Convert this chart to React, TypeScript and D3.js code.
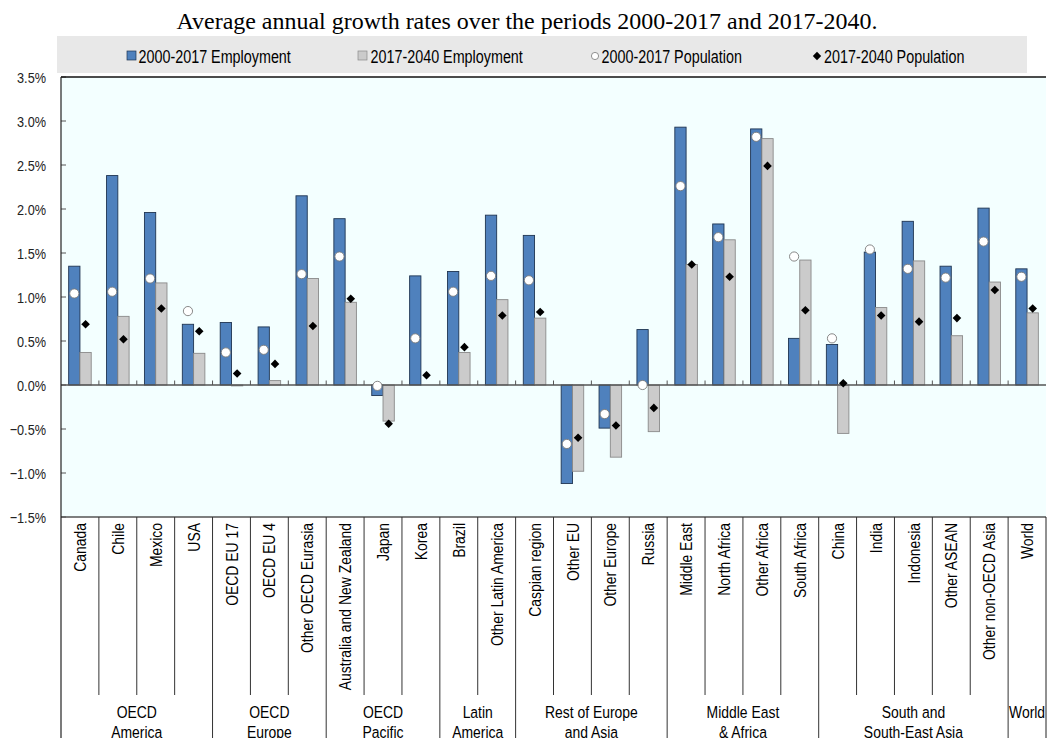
import React from "react";
import * as d3 from "d3";

const title = "Average annual growth rates over the periods 2000-2017 and 2017-2040.";

const categories = [
  "Canada", "Chile", "Mexico", "USA",
  "OECD EU 17", "OECD EU 4", "Other OECD Eurasia",
  "Australia and New Zealand", "Japan", "Korea",
  "Brazil", "Other Latin America",
  "Caspian region", "Other EU", "Other Europe", "Russia",
  "Middle East", "North Africa", "Other Africa", "South Africa",
  "China", "India", "Indonesia", "Other ASEAN", "Other non-OECD Asia",
  "World",
];

const groups = [
  { lines: ["OECD", "America"], count: 4 },
  { lines: ["OECD", "Europe"], count: 3 },
  { lines: ["OECD", "Pacific"], count: 3 },
  { lines: ["Latin", "America"], count: 2 },
  { lines: ["Rest of Europe", "and Asia"], count: 4 },
  { lines: ["Middle East", "& Africa"], count: 4 },
  { lines: ["South and", "South-East Asia"], count: 5 },
  { lines: ["World"], count: 1 },
];

const emp2000 = [1.35, 2.38, 1.96, 0.69, 0.71, 0.66, 2.15, 1.89, -0.12, 1.24, 1.29, 1.93, 1.70, -1.12, -0.49, 0.63, 2.93, 1.83, 2.91, 0.53, 0.46, 1.51, 1.86, 1.35, 2.01, 1.32];
const emp2017 = [0.37, 0.78, 1.16, 0.36, -0.01, 0.05, 1.21, 0.94, -0.41, 0.0, 0.37, 0.97, 0.76, -0.98, -0.82, -0.53, 1.37, 1.65, 2.80, 1.42, -0.55, 0.88, 1.41, 0.56, 1.17, 0.82];
const pop2000 = [1.04, 1.06, 1.21, 0.84, 0.37, 0.40, 1.26, 1.46, -0.01, 0.53, 1.06, 1.24, 1.19, -0.67, -0.33, 0.0, 2.26, 1.68, 2.82, 1.46, 0.53, 1.54, 1.32, 1.22, 1.63, 1.23];
const pop2017 = [0.69, 0.52, 0.87, 0.61, 0.13, 0.24, 0.67, 0.98, -0.44, 0.11, 0.43, 0.79, 0.83, -0.60, -0.46, -0.26, 1.37, 1.23, 2.49, 0.85, 0.02, 0.79, 0.72, 0.76, 1.08, 0.87];

const yTicks = [-1.5, -1.0, -0.5, 0.0, 0.5, 1.0, 1.5, 2.0, 2.5, 3.0, 3.5];

const legendItems = ["2000-2017 Employment", "2017-2040 Employment", "2000-2017 Population", "2017-2040 Population"];

const W = 1047;
const H = 738;
const plotL = 61;
const plotR = 1046;
const plotT = 77;
const plotB = 517;
const catLineB = 695;

const BLUE = "#4f81bd";
const BLUE_STROKE = "#1f3552";
const GRAY = "#cbcbcb";
const GRAY_STROKE = "#8a8a8a";
const FONT = "'Liberation Sans', Arial, sans-serif";
const NARROW = 0.82;

function NText(props: {
  x: number; y: number; size: number; anchor?: string; rotate?: boolean; dy?: string; fill?: string; children: React.ReactNode;
}) {
  const { x, y, size, anchor = "start", rotate = false, dy, fill = "#000", children } = props;
  const tr = `translate(${x},${y})${rotate ? " rotate(-90)" : ""} scale(${NARROW},1)`;
  return (
    <text transform={tr} fontFamily={FONT} fontSize={size} textAnchor={anchor} dy={dy} fill={fill}>
      {children}
    </text>
  );
}

export default function App() {
  const x = d3.scaleBand<string>().domain(categories).range([plotL, plotR]).padding(0);
  const bw = x.bandwidth();
  const inner = d3.scaleBand<string>().domain(["e0", "e1"]).range([0, bw]).paddingInner(0).paddingOuter(0.68);
  const y = d3.scaleLinear().domain([-1.5, 3.5]).range([plotB, plotT]);
  const y0 = y(0);
  const fmt = d3.format(".1f");

  const barRect = (v: number) => ({ y: Math.min(y(v), y0), h: Math.abs(y(v) - y0) });

  const groupBounds: number[] = [];
  let acc = 0;
  groups.forEach((g) => { acc += g.count; groupBounds.push(acc); });

  const diamond = (cx: number, cy: number, r: number) =>
    `M${cx},${cy - r}L${cx + r},${cy}L${cx},${cy + r}L${cx - r},${cy}Z`;

  const legendX = [127, 358, 595, 817];
  const legendTextX = [138.5, 370.5, 601.5, 824];

  let gStart = 0;

  return (
    <svg width={W} height={H} style={{ position: "absolute", left: 0, top: 0, background: "#fff" }}>
      {/* title */}
      <text x={176.5} y={29} textLength={701} lengthAdjust="spacingAndGlyphs" fontFamily="'Liberation Serif', 'Times New Roman', serif" fontSize={23} fill="#000">
        {title}
      </text>

      {/* legend */}
      <rect x={57} y={36} width={970} height={37} fill="#e8e8e8" />
      <rect x={legendX[0]} y={51} width={9} height={9} fill={BLUE} stroke={BLUE_STROKE} strokeWidth={0.7} />
      <rect x={legendX[1]} y={51} width={9} height={9} fill={GRAY} stroke={GRAY_STROKE} strokeWidth={0.7} />
      <circle cx={legendX[2]} cy={56} r={3.6} fill="#fff" stroke="#777" strokeWidth={0.8} />
      <path d={diamond(legendX[3], 56, 4.2)} fill="#000" />
      {legendItems.map((t, i) => (
        <NText key={t} x={legendTextX[i]} y={63} size={17.5}>{t}</NText>
      ))}

      {/* plot background */}
      <rect x={plotL} y={plotT} width={plotR - plotL} height={plotB - plotT} fill="#f3ffff" />

      {/* y ticks and labels */}
      {yTicks.map((t) => (
        <g key={t}>
          <line x1={plotL} x2={plotL + 5} y1={y(t)} y2={y(t)} stroke="#555" strokeWidth={1} />
          <NText x={46} y={y(t) + 5.5} size={15.5} anchor="end" fill="#222">{fmt(t) + "%"}</NText>
        </g>
      ))}

      {/* bars */}
      {categories.map((c, i) => {
        const bx = x(c)!;
        const b1 = barRect(emp2000[i]);
        const b2 = barRect(emp2017[i]);
        return (
          <g key={c}>
            <rect x={bx + inner("e0")!} y={b1.y} width={inner.bandwidth()} height={b1.h} fill={BLUE} stroke={BLUE_STROKE} strokeWidth={0.9} />
            <rect x={bx + inner("e1")!} y={b2.y} width={inner.bandwidth()} height={b2.h} fill={GRAY} stroke={GRAY_STROKE} strokeWidth={0.9} />
          </g>
        );
      })}

      {/* zero line & ticks */}
      <line x1={plotL} x2={plotR} y1={y0} y2={y0} stroke="#555" strokeWidth={1.4} />
      {categories.map((c, i) => (i > 0 ? (
        <line key={"zt" + c} x1={x(c)!} x2={x(c)!} y1={y0} y2={y0 - 4.5} stroke="#555" strokeWidth={1} />
      ) : null))}

      {/* markers */}
      {categories.map((c, i) => {
        const bx = x(c)!;
        const cx1 = bx + inner("e0")! + inner.bandwidth() / 2;
        const cx2 = bx + inner("e1")! + inner.bandwidth() / 2;
        return (
          <g key={"m" + c}>
            <circle cx={cx1} cy={y(pop2000[i])} r={4.6} fill="#fff" stroke="#7a7a7a" strokeWidth={0.9} />
            <path d={diamond(cx2, y(pop2017[i]), 4.3)} fill="#000" />
          </g>
        );
      })}

      {/* frame */}
      <line x1={plotL} x2={plotR} y1={plotT} y2={plotT} stroke="#111" strokeWidth={1.3} />
      <line x1={plotL} x2={plotR} y1={plotB} y2={plotB} stroke="#555" strokeWidth={1.3} />
      <line x1={plotL} x2={plotL} y1={plotT} y2={H} stroke="#222" strokeWidth={1.2} />
      <line x1={plotR} x2={plotR} y1={plotB} y2={H} stroke="#222" strokeWidth={1} />

      {/* category separators */}
      {categories.map((c, i) => {
        if (i === 0) return null;
        const isGroup = groupBounds.includes(i);
        return (
          <line key={"cs" + c} x1={x(c)!} x2={x(c)!} y1={plotB} y2={isGroup ? H : catLineB} stroke="#333" strokeWidth={1} />
        );
      })}

      {/* category labels */}
      {categories.map((c) => (
        <NText key={"cl" + c} x={x(c)! + bw / 2} y={523} size={17} anchor="end" rotate dy="0.36em">{c}</NText>
      ))}

      {/* group labels */}
      {groups.map((g) => {
        const s = gStart;
        gStart += g.count;
        const x0 = x(categories[s])!;
        const x1 = x(categories[s + g.count - 1])! + bw;
        const cx = (x0 + x1) / 2;
        return (
          <g key={g.lines.join("-")}>
            {g.lines.map((ln, k) => (
              <NText key={ln} x={cx} y={718 + k * 19.5} size={17} anchor="middle">{ln}</NText>
            ))}
          </g>
        );
      })}
    </svg>
  );
}
